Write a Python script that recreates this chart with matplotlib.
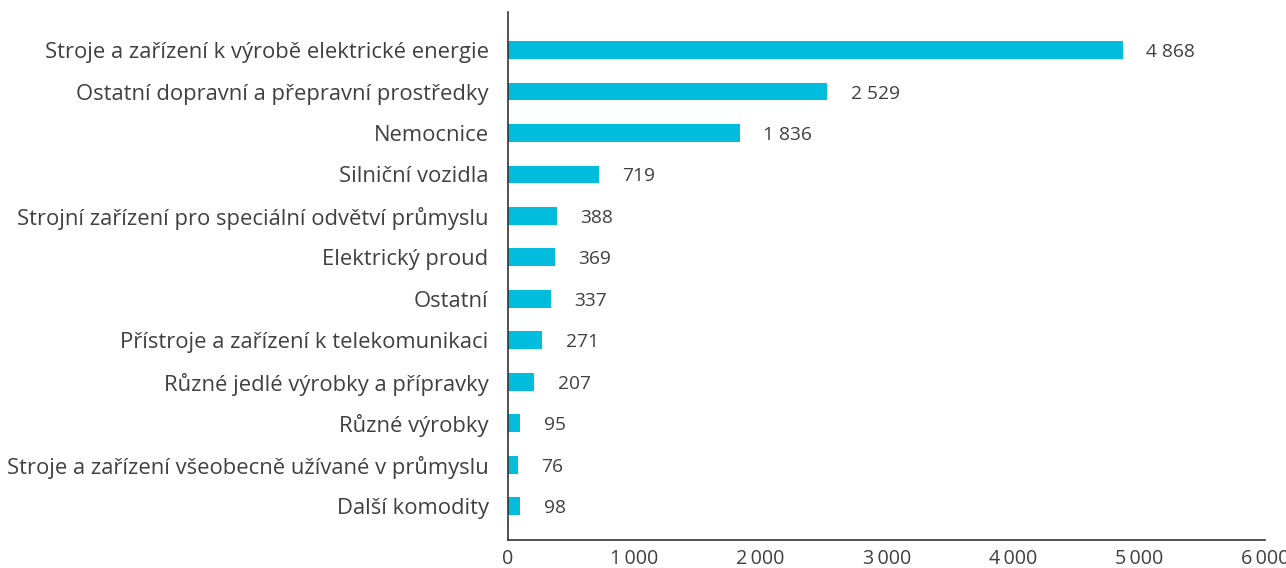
import matplotlib
matplotlib.use("Agg")
import matplotlib.pyplot as plt
from matplotlib.ticker import FuncFormatter

plt.rcParams['font.family'] = ['Open Sans', 'DejaVu Sans']

categories = [
    "Stroje a zařízení k výrobě elektrické energie",
    "Ostatní dopravní a přepravní prostředky",
    "Nemocnice",
    "Silniční vozidla",
    "Strojní zařízení pro speciální odvětví průmyslu",
    "Elektrický proud",
    "Ostatní",
    "Přístroje a zařízení k telekomunikaci",
    "Různé jedlé výrobky a přípravky",
    "Různé výrobky",
    "Stroje a zařízení všeobecně užívané v průmyslu",
    "Další komodity",
]
values = [4868, 2529, 1836, 719, 388, 369, 337, 271, 207, 95, 76, 98]
xticks = [0, 1000, 2000, 3000, 4000, 5000, 6000]

bar_color = "#00BCDD"
text_color = "#404040"

fig = plt.figure(figsize=(12.86, 5.68), dpi=100)
ax = fig.add_axes([0.395, 0.049, 0.589, 0.930])

pos = list(range(len(categories)))
ax.barh(pos, values, height=0.43, color=bar_color)

for p, v in zip(pos, values):
    lbl = f"{v:,}".replace(",", " ")
    ax.annotate(lbl, (v, p), xytext=(17, 0), textcoords="offset points",
                va="center_baseline", ha="left", fontsize=13.8, color=text_color)

ax.set_yticks(pos)
ax.set_yticklabels(categories, fontsize=15.8, color=text_color)
ax.set_ylim(len(categories) - 1 + 0.82, -0.92)
ax.set_xlim(0, 6000)
ax.set_xticks(xticks)
ax.xaxis.set_major_formatter(FuncFormatter(lambda x, _: f"{int(x):,}".replace(",", "\u2009")))
ax.tick_params(axis='x', length=0, pad=6, labelsize=14.2, labelcolor=text_color)
ax.tick_params(axis='y', length=0, pad=14)

for s in ["top", "right"]:
    ax.spines[s].set_visible(False)
for s in ["left", "bottom"]:
    ax.spines[s].set_color("#333333")
    ax.spines[s].set_linewidth(1.2)

fig.savefig("out.png", dpi=100)
